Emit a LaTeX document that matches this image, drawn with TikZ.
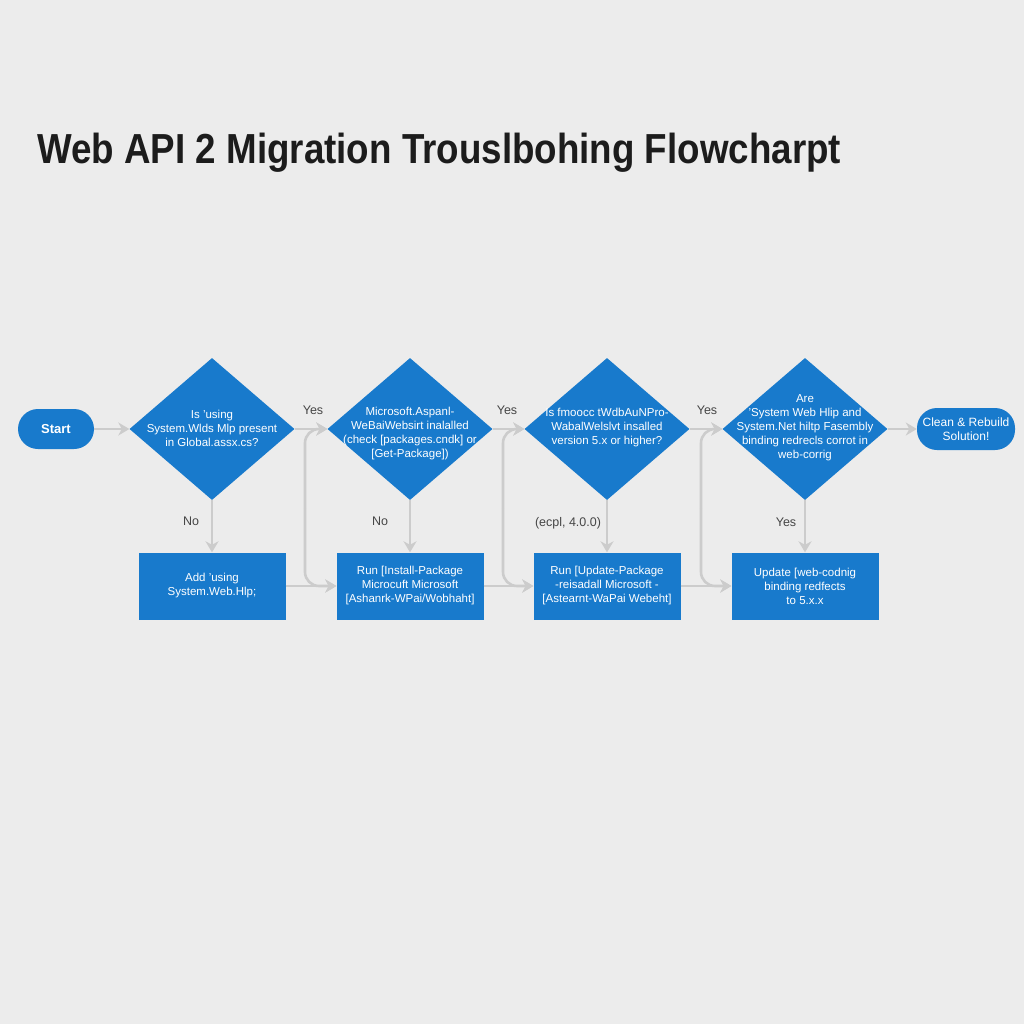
\documentclass[tikz,border=0pt]{standalone}
\usepackage{fontspec}
\setmainfont{Liberation Sans}
\usetikzlibrary{shapes.geometric,arrows.meta}
\definecolor{bg}{RGB}{236,236,236}
\definecolor{fblue}{RGB}{24,122,204}
\definecolor{conngray}{RGB}{204,204,204}
\definecolor{lblgray}{RGB}{70,70,70}
\definecolor{titlec}{RGB}{28,28,28}
\tikzset{
  dia/.style={diamond, fill=fblue, minimum width=165pt, minimum height=142pt, inner sep=0pt},
  dtext/.style={text=white, font=\fontsize{11.5}{14}\selectfont, align=center, inner sep=0pt},
  boxn/.style={rectangle, fill=fblue, minimum width=147pt, minimum height=67pt, inner sep=0pt, text=white, font=\fontsize{11.5}{14}\selectfont, align=center},
  pill/.style={rectangle, rounded corners=20pt, fill=fblue, inner sep=0pt, text=white, align=center},
  tip/.style={-{Stealth[length=11pt,width=13pt,inset=3.5pt]}},
  conn/.style={draw=conngray, line width=2.6pt, tip},
  connl/.style={draw=conngray, line width=2.6pt, rounded corners=14pt, tip},
  lbl/.style={text=lblgray, font=\fontsize{12.5}{14}\selectfont, inner sep=0pt}
}
\begin{document}
\begin{tikzpicture}[x=1pt,y=-1pt]
\fill[bg] (0,0) rectangle (1024,1024);
\useasboundingbox (0,0) rectangle (1024,1024);

\node[anchor=base west, text=titlec, font=\fontsize{42}{44}\selectfont\bfseries, inner sep=0pt] (title) at (37,164) {\scalebox{0.875}[1]{Web API 2 Migration Trouslbohing Flowcharpt}};

% top row
\node[pill, minimum width=76pt, minimum height=40pt, font=\fontsize{13}{15}\selectfont\bfseries] (start) at (56,429) {Start};
\node[dia] (d1) at (212,429) {};
\node[dtext] (t1) at (212,428) {Is 'using\\System.Wlds Mlp present\\in Global.assx.cs?};
\node[dia] (d2) at (410,429) {};
\node[dtext] (t2) at (410,434) {Microsoft.Aspanl-\\WeBaiWebsirt inalalled\\(check [packages.cndk] or\\\relax[Get-Package])};
\node[dia] (d3) at (607,429) {};
\node[dtext] (t3) at (607,428) {Is fmoocc tWdbAuNPro-\\WabalWelslvt insalled\\version 5.x or higher?};
\node[dia] (d4) at (805,429) {};
\node[dtext] (t4) at (805,428) {Are\\'System Web Hlip and\\System.Net hiltp Fasembly\\binding redrecls corrot in\\web-corrig};
\node[pill, minimum width=98pt, minimum height=42pt, font=\fontsize{12}{14}\selectfont] (clean) at (966,429) {Clean \& Rebuild\\Solution!};

% bottom row
\node[boxn] (b1) at (212,586) {Add 'using\\System.Web.Hlp;};
\node[boxn] (b2) at (410,586) {Run [Install-Package\\Microcuft Microsoft\\\relax[Ashanrk-WPai/Wobhaht]};
\node[boxn] (b3) at (607,586) {Run [Update-Package\\-reisadall Microsoft -\\\relax[Astearnt-WaPai Webeht]};
\node[boxn] (b4) at (805,586) {Update [web-codnig\\binding redfects\\to 5.x.x};

% junction coordinates
\coordinate (j2) at (305,508);
\coordinate (j3) at (503,508);
\coordinate (j4) at (701,508);

% connectors
\draw[conn] (start) -- (d1);
\draw[conn] (d1.east) -- (d2.west);
\draw[conn] (d2.east) -- (d3.west);
\draw[conn] (d3.east) -- (d4.west);
\draw[conn] (d4.east) -- (clean.west);

\draw[conn] (d1.south) -- (b1.north);
\draw[conn] (d2.south) -- (b2.north);
\draw[conn] (d3.south) -- (b3.north);
\draw[conn] (d4.south) -- (b4.north);

\draw[conn] (b1.east) -- (b2.west);
\draw[conn] (b2.east) -- (b3.west);
\draw[conn] (b3.east) -- (b4.west);

\draw[connl] (j2) |- (d2.west);
\draw[connl] (j2) |- (b2.west);
\draw[connl] (j3) |- (d3.west);
\draw[connl] (j3) |- (b3.west);
\draw[connl] (j4) |- (d4.west);
\draw[connl] (j4) |- (b4.west);

% labels
\node[lbl] (y1) at (313,410) {Yes};
\node[lbl] (y2) at (507,410) {Yes};
\node[lbl] (y3) at (707,410) {Yes};
\node[lbl] (n1) at (191,521) {No};
\node[lbl] (n2) at (380,521) {No};
\node[lbl] (e3) at (568,523) {(ecpl, 4.0.0)};
\node[lbl] (y4) at (786,522) {Yes};
\end{tikzpicture}
\end{document}
